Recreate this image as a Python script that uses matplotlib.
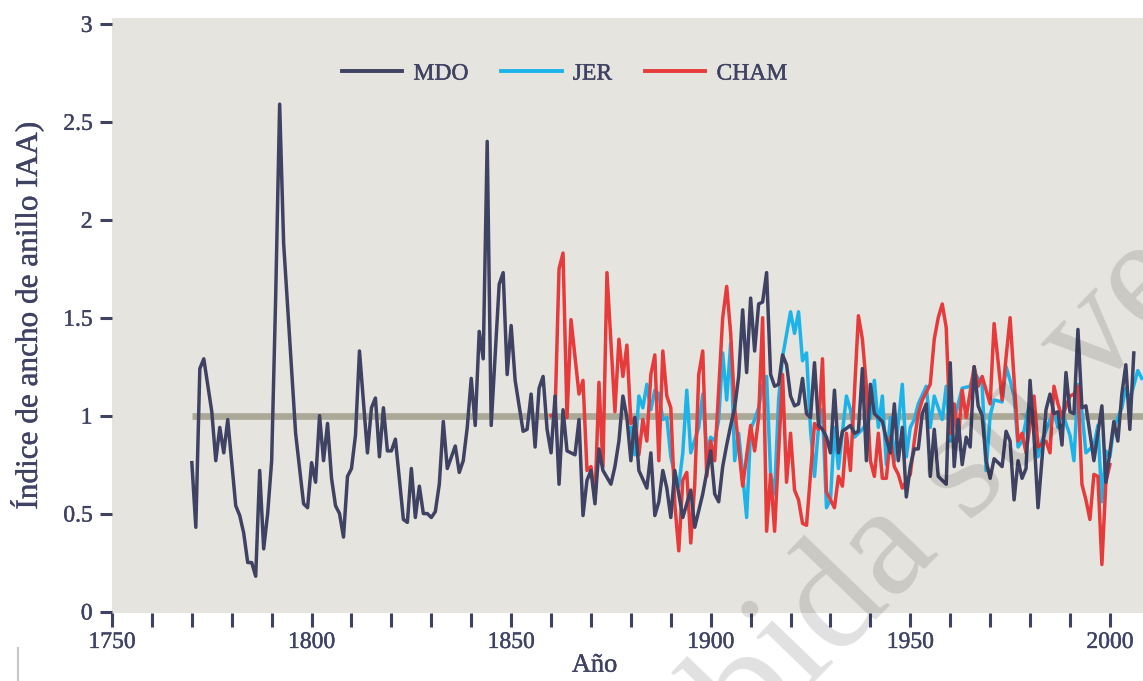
import matplotlib
matplotlib.use("Agg")
import matplotlib.pyplot as plt
import matplotlib.patheffects as pe
from matplotlib.lines import Line2D
from matplotlib.ticker import MultipleLocator, FuncFormatter

# ring-width index series (year, IAA)
mdo_years = [1770, 1771, 1772, 1773, 1775, 1776, 1777, 1778, 1779,
             1781, 1782, 1783, 1784, 1785, 1786, 1787, 1788, 1789,
             1790, 1791, 1792, 1793, 1796, 1798, 1799,
             1800, 1801, 1802, 1803, 1804, 1805, 1806, 1807, 1808, 1809,
             1810, 1811, 1812, 1814, 1815, 1816, 1817, 1818, 1819,
             1820, 1821, 1823, 1824, 1825, 1826, 1827, 1828, 1829,
             1830, 1831, 1832, 1833, 1834, 1836, 1837, 1838, 1839,
             1840, 1841, 1842, 1843, 1844, 1845, 1847, 1848, 1849,
             1850, 1851, 1853, 1854, 1855, 1856, 1857, 1858, 1859,
             1860, 1861, 1862, 1863, 1864, 1866, 1867, 1868, 1869,
             1870, 1871, 1872, 1873, 1875, 1876, 1877, 1878, 1879,
             1880, 1881, 1882, 1884, 1885, 1886, 1887, 1888, 1889,
             1890, 1891, 1893, 1895, 1896, 1898,
             1900, 1901, 1902, 1903, 1904, 1905, 1906, 1907, 1908, 1909,
             1910, 1911, 1912, 1913, 1914, 1915, 1916, 1917, 1918, 1919,
             1920, 1921, 1922, 1923, 1924, 1925, 1926, 1927, 1928, 1929,
             1930, 1931, 1932, 1933, 1935, 1936, 1937, 1938, 1939,
             1940, 1941, 1943, 1944, 1945, 1946, 1947, 1948, 1949,
             1950, 1951, 1952, 1953, 1954, 1955, 1956, 1957, 1959,
             1960, 1961, 1962, 1963, 1964, 1965, 1966, 1967, 1968, 1969,
             1970, 1971, 1973, 1974, 1975, 1976, 1977, 1978, 1979,
             1980, 1981, 1982, 1984, 1985, 1986, 1987, 1988, 1989,
             1990, 1991, 1992, 1993, 1994, 1996, 1998, 1999,
             2001, 2002, 2003, 2004, 2005, 2006]
mdo_values = [0.76, 0.43, 1.24, 1.29, 1.02, 0.77, 0.94, 0.81, 0.98,
              0.54, 0.49, 0.40, 0.25, 0.25, 0.18, 0.72, 0.32, 0.50,
              0.77, 1.60, 2.59, 1.88, 0.91, 0.55, 0.53,
              0.76, 0.66, 1.00, 0.77, 0.96, 0.68, 0.54, 0.50, 0.38, 0.69,
              0.73, 0.90, 1.33, 0.81, 1.04, 1.09, 0.79, 1.04, 0.82,
              0.82, 0.88, 0.47, 0.455, 0.73, 0.48, 0.64, 0.50, 0.50,
              0.48, 0.51, 0.65, 0.97, 0.73, 0.845, 0.71, 0.77, 0.94,
              1.19, 0.95, 1.43, 1.29, 2.40, 0.95, 1.67, 1.73, 1.21,
              1.46, 1.18, 0.92, 0.93, 1.11, 0.84, 1.14, 1.20, 0.93,
              0.81, 1.10, 0.65, 1.03, 0.82, 0.80, 0.98, 0.49, 0.67,
              0.72, 0.55, 0.83, 0.72, 0.65, 0.74, 0.87, 1.10, 0.99,
              0.77, 0.99, 0.72, 0.63, 0.81, 0.49, 0.56, 0.72, 0.63,
              0.48, 0.72, 0.48, 0.62, 0.43, 0.60,
              0.82, 0.60, 0.56, 0.74, 0.85, 0.95, 1.04, 1.20, 1.54, 1.22,
              1.60, 1.33, 1.57, 1.58, 1.73, 1.21, 1.15, 1.16, 1.31, 1.26,
              1.10, 1.05, 1.06, 1.19, 1.01, 0.99, 1.27, 0.95, 0.93, 0.89,
              0.81, 1.13, 0.81, 0.92, 0.95, 0.91, 0.92, 1.24, 0.77,
              1.16, 1.01, 0.97, 0.88, 0.81, 1.06, 0.77, 0.94, 0.585,
              0.74, 0.83, 0.83, 1.01, 1.06, 0.69, 0.93, 0.69, 0.65,
              1.27, 0.74, 0.98, 0.75, 0.89, 0.84, 1.25, 1.05, 1.00, 0.77,
              0.68, 0.78, 0.74, 0.92, 0.87, 0.57, 0.77, 0.68, 0.73,
              1.18, 0.89, 0.53, 1.03, 1.11, 1.01, 1.02, 0.85, 1.22,
              1.02, 1.01, 1.44, 1.04, 1.05, 0.77, 1.05, 0.66,
              0.97, 0.87, 1.11, 1.26, 0.93, 1.32]

jer_years = [1880, 1881, 1882, 1883, 1884, 1885, 1886, 1887, 1888, 1889,
             1890, 1891, 1892, 1893, 1894, 1895, 1897, 1898, 1899,
             1900, 1901, 1902, 1903, 1904, 1905, 1906, 1907, 1908, 1909,
             1910, 1911, 1912, 1913, 1914, 1915, 1916, 1917, 1918,
             1920, 1921, 1922, 1923, 1924, 1925, 1926, 1927, 1928, 1929,
             1930, 1931, 1932, 1934, 1935, 1936, 1937, 1938,
             1940, 1941, 1942, 1943, 1944, 1945, 1946, 1948, 1949,
             1950, 1951, 1952, 1954, 1955, 1956, 1958, 1959,
             1960, 1961, 1963, 1965, 1966, 1968, 1969,
             1970, 1971, 1973, 1974, 1975, 1976, 1977, 1978,
             1980, 1981, 1982, 1983, 1985, 1986, 1987, 1988,
             1990, 1991, 1992, 1993, 1994, 1996, 1997, 1998, 1999,
             2000, 2001, 2003, 2004, 2005, 2007, 2008]
jer_values = [0.94, 0.80, 1.10, 1.04, 1.16, 1.03, 1.13, 1.11, 0.98, 0.99,
              0.79, 0.70, 0.64, 0.81, 1.13, 0.81, 0.94, 1.11, 0.81,
              0.89, 0.87, 0.98, 1.32, 1.08, 1.37, 0.77, 0.91, 0.70, 0.48,
              0.93, 0.98, 1.04, 1.15, 1.20, 0.70, 0.60, 1.08, 1.30,
              1.53, 1.42, 1.53, 1.28, 1.32, 0.93, 0.69, 0.94, 1.03, 0.53,
              0.57, 0.94, 0.73, 1.10, 1.03, 0.89, 0.91, 0.93,
              0.99, 1.18, 0.94, 1.10, 0.75, 0.99, 0.77, 1.16, 0.79,
              0.94, 0.98, 1.06, 1.15, 0.94, 1.10, 0.98, 1.15,
              0.87, 0.98, 1.14, 1.15, 1.22, 1.16, 0.72,
              1.00, 1.08, 1.07, 1.25, 1.18, 1.10, 0.84, 0.87,
              1.08, 0.95, 0.79, 0.87, 0.98, 1.01, 0.94, 1.02,
              0.90, 0.77, 1.16, 1.02, 0.81, 0.85, 0.95, 0.56, 0.82,
              0.79, 0.94, 1.04, 1.14, 1.08, 1.23, 1.19]

cham_years = [1860, 1861, 1862, 1863, 1864, 1865, 1867, 1868, 1869,
              1870, 1871, 1872, 1873, 1874, 1876, 1877, 1878, 1879,
              1880, 1881, 1882, 1883, 1884, 1885, 1886, 1887, 1888, 1889,
              1890, 1891, 1892, 1893, 1894, 1895, 1896, 1897, 1898, 1899,
              1900, 1901, 1903, 1904, 1905, 1906, 1907, 1908,
              1910, 1911, 1912, 1913, 1914, 1915, 1916, 1918, 1919,
              1920, 1921, 1922, 1923, 1924, 1926, 1927, 1928, 1929,
              1931, 1932, 1933, 1934, 1935, 1937, 1938, 1939,
              1940, 1941, 1942, 1943, 1944, 1945, 1946, 1947, 1948,
              1950, 1951, 1952, 1953, 1955, 1956, 1957, 1958, 1959,
              1960, 1961, 1962, 1963, 1964, 1966, 1967, 1968,
              1970, 1971, 1973, 1974, 1975, 1977, 1978, 1979,
              1981, 1982, 1984, 1985, 1986, 1987, 1988,
              1990, 1991, 1992, 1993, 1994, 1995, 1996, 1997, 1998, 1999,
              2000]
cham_values = [1.00, 1.01, 1.75, 1.83, 0.99, 1.49, 1.11, 1.18, 0.72,
               0.74, 0.57, 1.17, 0.74, 1.73, 1.02, 1.39, 1.20, 1.36,
               0.96, 0.99, 0.80, 0.98, 0.87, 1.21, 1.31, 0.77, 1.33, 1.10,
               1.04, 0.55, 0.31, 0.67, 0.71, 0.35, 0.65, 1.21, 1.33, 0.69,
               0.87, 0.77, 1.50, 1.66, 1.42, 1.04, 0.84, 0.64,
               0.95, 0.82, 0.99, 1.50, 0.41, 0.70, 0.41, 1.21, 0.66,
               0.91, 0.62, 0.57, 0.45, 0.44, 0.96, 0.93, 1.29, 0.61,
               0.53, 0.69, 0.64, 0.91, 0.72, 1.51, 1.39, 1.15,
               0.77, 0.69, 0.91, 0.68, 0.68, 0.89, 0.74, 0.70, 0.63,
               0.70, 0.87, 1.01, 1.08, 1.16, 1.39, 1.50, 1.57, 1.45,
               0.91, 1.06, 0.87, 1.13, 0.99, 1.25, 1.15, 1.20,
               1.06, 1.47, 1.08, 1.30, 1.50, 0.87, 0.91, 0.81,
               1.10, 0.84, 0.87, 0.81, 1.15, 1.06, 0.99,
               1.10, 1.11, 1.15, 0.65, 0.57, 0.47, 0.70, 0.69, 0.24, 0.66,
               0.75]

series_names = ["MDO", "JER", "CHAM"]
y_ticks = [0, 0.5, 1, 1.5, 2, 2.5, 3]
y_tick_labels = ["0", "0.5", "1", "1.5", "2", "2.5", "3"]
mean_index = 1.0

navy = "#3f4263"
sky = "#1cb4e8"
red = "#e73a3b"
band = "#aba897"
serif = ["Liberation Serif", "DejaVu Serif"]
# slightly heavier strokes on the lettering
bolden = [pe.withStroke(linewidth=0.3, foreground=navy)]

plt.rcParams["font.family"] = serif

fig = plt.figure(figsize=(11.43, 6.81), dpi=100)
ax = fig.add_axes([112 / 1143, 1 - 612.5 / 681, 1 - 112 / 1143, (612.5 - 18) / 681])
ax.set_facecolor("#e5e4df")

ax.hlines(mean_index, mdo_years[0], 2010, color=band, lw=4.8, zorder=2)
l_jer, = ax.plot(jer_years, jer_values, color=sky, lw=2.5, zorder=3)
l_cham, = ax.plot(cham_years, cham_values, color=red, lw=2.5, zorder=4)
l_mdo, = ax.plot(mdo_years, mdo_values, color=navy, lw=2.5, zorder=5)

ax.set_xlim(1750, 2008.3)
ax.set_ylim(-0.005, 3.03)

for s in ax.spines.values():
    s.set_visible(False)

ax.xaxis.set_major_locator(MultipleLocator(10))
ax.xaxis.set_major_formatter(FuncFormatter(
    lambda v, p: "%d" % v if int(round(v)) % 50 == 0 else ""))
ax.set_yticks(y_ticks)
ax.set_yticklabels(y_tick_labels)
ax.tick_params(axis="x", direction="out", length=10, width=2.2, color=navy,
               labelcolor=navy, labelsize=17, pad=4)
ax.tick_params(axis="y", direction="out", length=9, width=2.2, color=navy,
               labelcolor=navy, labelsize=17, pad=5)
for t in ax.get_xticklabels() + ax.get_yticklabels():
    t.set_path_effects(bolden)

ax.set_xlabel("Año", color=navy, fontsize=19, path_effects=bolden)
ax.xaxis.set_label_coords(0.468, -0.071)
ax.set_ylabel("Índice de ancho de anillo IAA)", color=navy, fontsize=22.5,
              path_effects=bolden)
ax.yaxis.set_label_coords(-0.066, 0.5)

leg = ax.legend([l_mdo, l_jer, l_cham], series_names, ncol=3, frameon=False,
                loc="center", bbox_to_anchor=(0.439, 0.906), fontsize=17,
                handlelength=2.55, handletextpad=0.47, columnspacing=1.4,
                labelcolor=navy)
for h in leg.get_lines():
    h.set_linewidth(2.8)
for t in leg.get_texts():
    t.set_path_effects(bolden)

# watermark across the lower right
fig.text(895 / 1143, 1 - 545 / 681, "Prohibida su venta", rotation=46,
         ha="center", va="center", fontsize=114, color="black", alpha=0.12,
         family=serif, zorder=10)

# thin stray rule at the bottom-left corner
fig.add_artist(Line2D([18 / 1143, 18 / 1143], [0, 1 - 648 / 681],
                      color="#c9c9c9", lw=1.6))

fig.savefig("out.png", dpi=100)
